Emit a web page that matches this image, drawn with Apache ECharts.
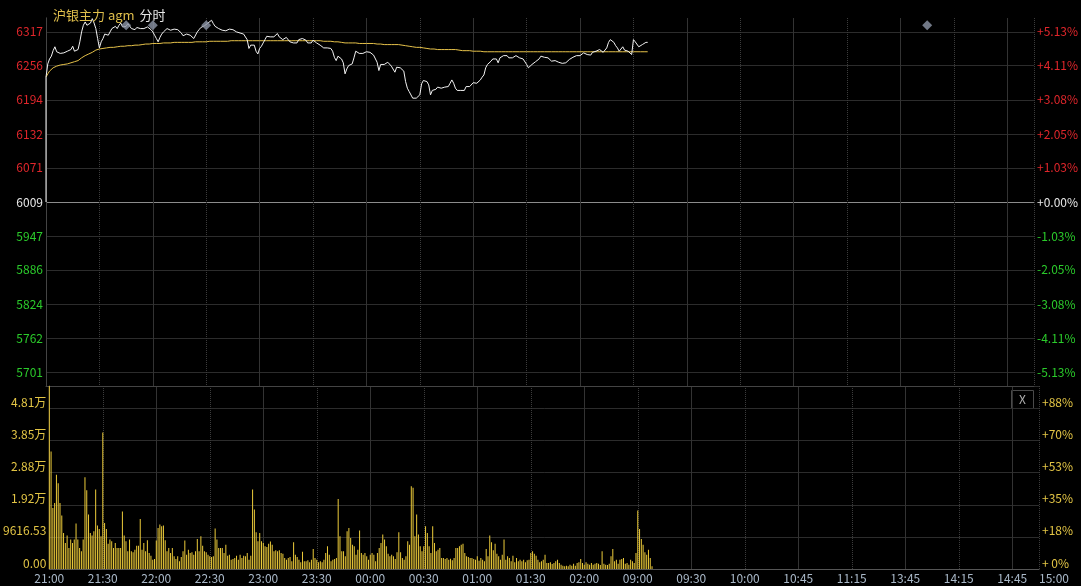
<!DOCTYPE html>
<html>
<head>
<meta charset="utf-8">
<title>沪银主力 agm 分时</title>
<script src="https://cdn.jsdelivr.net/npm/echarts@6/dist/echarts.min.js"></script>
<style>
html, body { margin: 0; padding: 0; background: #000; }
#chart { width: 1081px; height: 586px; }
</style>
</head>
<body>
<div id="chart"></div>
<script>
// reference (previous settle) price and axis ticks
var prevSettle = 6009
var priceTicks = [5701, 5762, 5824, 5886, 5947, 6009, 6071, 6132, 6194, 6256, 6317]
var timeLabels = ['21:00', '21:30', '22:00', '22:30', '23:00', '23:30', '00:00', '00:30', '01:00', '01:30',
    '02:00', '09:00', '09:30', '10:00', '10:45', '11:15', '13:45', '14:15', '14:45', '15:00']
var sessionMinutes = 555
var volTickStep = 9616.53
var volMax = 54814.2

// event markers (minute index from 21:00)
var eventMinutes = [45, 60, 90, 495]
var eventLevel = 6329

// one value per trading minute, from 21:00
var prices = [
    6235, 6259, 6268, 6273, 6283, 6290, 6281, 6279, 6278, 6280,
    6279, 6276, 6282, 6279, 6285, 6291, 6282, 6280, 6285, 6299,
    6317, 6329, 6335, 6329, 6326, 6333, 6341, 6333, 6323, 6305,
    6288, 6299, 6305, 6313, 6314, 6311, 6317, 6323, 6326, 6327,
    6323, 6329, 6333, 6326, 6323, 6327, 6332, 6329, 6323, 6325,
    6321, 6325, 6327, 6323, 6320, 6323, 6325, 6326, 6323, 6321,
    6317, 6311, 6305, 6299, 6307, 6313, 6317, 6320, 6323, 6321,
    6320, 6323, 6322, 6323, 6321, 6320, 6315, 6310, 6308, 6313,
    6314, 6311, 6309, 6305, 6307, 6317, 6321, 6325, 6326, 6328,
    6331, 6333, 6335, 6338, 6332, 6327, 6325, 6323, 6323, 6320,
    6317, 6319, 6320, 6322, 6323, 6321, 6319, 6317, 6316, 6315,
    6314, 6313, 6310, 6303, 6287, 6293, 6290, 6293, 6282, 6277,
    6287, 6291, 6297, 6303, 6309, 6311, 6308, 6311, 6308, 6309,
    6314, 6308, 6305, 6303, 6305, 6307, 6308, 6299, 6302, 6297,
    6296, 6297, 6303, 6305, 6305, 6303, 6302, 6297, 6296, 6297,
    6302, 6300, 6297, 6294, 6293, 6290, 6288, 6287, 6288, 6290,
    6287, 6282, 6271, 6265, 6273, 6273, 6268, 6261, 6241, 6250,
    6256, 6258, 6259, 6270, 6282, 6280, 6278, 6276, 6278, 6279,
    6281, 6282, 6280, 6278, 6275, 6272, 6262, 6247, 6258, 6259,
    6258, 6261, 6262, 6261, 6255, 6252, 6244, 6253, 6250, 6252,
    6253, 6246, 6227, 6215, 6209, 6211, 6197, 6194, 6197, 6195,
    6203, 6223, 6229, 6230, 6227, 6221, 6203, 6211, 6209, 6213,
    6217, 6218, 6215, 6218, 6217, 6215, 6218, 6224, 6230, 6224,
    6215, 6211, 6209, 6211, 6212, 6211, 6218, 6221, 6218, 6221,
    6225, 6224, 6224, 6225, 6230, 6235, 6239, 6252, 6258, 6259,
    6264, 6268, 6265, 6268, 6261, 6270, 6273, 6274, 6276, 6274,
    6270, 6273, 6270, 6271, 6274, 6271, 6270, 6268, 6268, 6265,
    6258, 6252, 6252, 6258, 6261, 6263, 6261, 6268, 6273, 6273,
    6271, 6271, 6270, 6270, 6264, 6265, 6265, 6264, 6262, 6261,
    6260, 6259, 6261, 6264, 6267, 6270, 6271, 6270, 6274, 6276,
    6274, 6275, 6279, 6278, 6276, 6279, 6275, 6280, 6281, 6282,
    6284, 6285, 6284, 6280, 6282, 6288, 6298, 6303, 6302, 6298,
    6292, 6288, 6282, 6285, 6290, 6284, 6282, 6282, 6284, 6276,
    6303, 6299, 6296, 6290, 6291, 6294, 6297, 6298, 6298
]

var avgPrices = [
    6235, 6241, 6246, 6249, 6252, 6254, 6255, 6256, 6257, 6257,
    6258, 6258, 6259, 6260, 6261, 6262, 6263, 6264, 6265, 6267,
    6270, 6272, 6274, 6276, 6277, 6278, 6280, 6282, 6284, 6285,
    6286, 6287, 6287, 6288, 6288, 6288, 6289, 6289, 6289, 6290,
    6290, 6290, 6291, 6291, 6291, 6292, 6292, 6292, 6292, 6293,
    6293, 6293, 6293, 6294, 6294, 6294, 6295, 6295, 6295, 6295,
    6296, 6296, 6296, 6296, 6296, 6296, 6297, 6297, 6297, 6297,
    6297, 6297, 6298, 6298, 6298, 6298, 6298, 6298, 6298, 6298,
    6298, 6298, 6298, 6299, 6299, 6299, 6299, 6299, 6299, 6299,
    6299, 6299, 6300, 6300, 6300, 6300, 6300, 6300, 6300, 6300,
    6300, 6300, 6300, 6301, 6301, 6301, 6301, 6301, 6301, 6301,
    6301, 6301, 6301, 6301, 6301, 6301, 6301, 6301, 6301, 6301,
    6301, 6301, 6301, 6301, 6301, 6301, 6301, 6301, 6301, 6301,
    6301, 6301, 6301, 6301, 6301, 6301, 6301, 6301, 6301, 6301,
    6301, 6301, 6301, 6301, 6301, 6301, 6301, 6301, 6301, 6301,
    6301, 6301, 6301, 6301, 6301, 6300, 6300, 6300, 6300, 6300,
    6300, 6300, 6299, 6299, 6299, 6299, 6298, 6298, 6297, 6297,
    6297, 6297, 6297, 6297, 6297, 6297, 6296, 6296, 6296, 6296,
    6296, 6296, 6296, 6296, 6296, 6295, 6295, 6295, 6295, 6295,
    6294, 6294, 6294, 6294, 6294, 6294, 6294, 6294, 6294, 6294,
    6293, 6293, 6292, 6292, 6291, 6290, 6290, 6289, 6289, 6289,
    6289, 6288, 6288, 6288, 6287, 6287, 6286, 6286, 6286, 6286,
    6285, 6285, 6285, 6285, 6285, 6285, 6285, 6285, 6285, 6285,
    6285, 6284, 6284, 6284, 6283, 6283, 6283, 6283, 6283, 6283,
    6282, 6282, 6282, 6282, 6282, 6282, 6281, 6281, 6281, 6281,
    6281, 6281, 6281, 6281, 6281, 6281, 6281, 6281, 6281, 6281,
    6281, 6281, 6281, 6281, 6281, 6281, 6281, 6281, 6281, 6281,
    6281, 6281, 6281, 6281, 6281, 6281, 6281, 6281, 6281, 6281,
    6281, 6281, 6281, 6281, 6281, 6281, 6281, 6281, 6281, 6281,
    6281, 6281, 6281, 6281, 6281, 6281, 6281, 6281, 6281, 6281,
    6281, 6281, 6281, 6281, 6281, 6281, 6281, 6281, 6281, 6281,
    6281, 6281, 6281, 6281, 6281, 6281, 6281, 6281, 6281, 6281,
    6281, 6281, 6281, 6281, 6281, 6281, 6281, 6281, 6281, 6281,
    6281, 6281, 6281, 6281, 6281, 6281, 6281, 6281, 6281
]

var volumes = [
    54814, 35200, 18300, 19800, 28200, 25700, 19800, 16000, 10800, 7800,
    10000, 6300, 8800, 7800, 8800, 13600, 8800, 6300, 5300, 8800,
    27500, 23600, 16300, 10800, 10000, 11300, 23800, 13000, 12000, 9800,
    40900, 13800, 12000, 7600, 8800, 8300, 6300, 7800, 6300, 6300,
    6300, 17200, 10000, 8300, 5300, 8800, 5300, 5000, 5800, 7000,
    7000, 15000, 5800, 7800, 5300, 8600, 4800, 4000, 2800, 3000,
    8500, 12300, 13300, 12800, 13000, 8600, 5300, 6300, 4800, 6300,
    3800, 3000, 3800, 2300, 3600, 5300, 8500, 4300, 5800, 4800,
    5000, 4300, 5300, 9000, 5300, 9800, 7000, 5300, 5000, 4300,
    3800, 3600, 3800, 12100, 8800, 6300, 6300, 6300, 4800, 7300,
    4000, 4300, 2800, 3000, 3300, 4000, 2800, 4300, 3300, 4000,
    3800, 4800, 2800, 4000, 23800, 17800, 11000, 8300, 10800, 8300,
    7800, 6800, 6600, 7600, 8200, 7300, 5300, 5600, 5300, 5600,
    4800, 4600, 3300, 2800, 3300, 3600, 2300, 8000, 4300, 3600,
    2800, 2000, 5200, 2300, 2300, 2600, 2000, 2800, 6000, 3300,
    2800, 2000, 2300, 2000, 2800, 4800, 6800, 4300, 2300, 2800,
    3000, 3300, 21000, 9800, 5300, 5300, 3800, 11300, 12300, 9300,
    7300, 6800, 4300, 5800, 11500, 4800, 4300, 4800, 3800, 2800,
    4300, 4800, 4300, 2300, 4800, 6300, 7800, 10300, 8800, 6800,
    4600, 3800, 4300, 3800, 3000, 5000, 11000, 5000, 3300, 2800,
    3800, 8300, 7300, 24800, 24300, 9800, 16300, 10300, 6800, 5300,
    6800, 12800, 10800, 6800, 4800, 12800, 7800, 5300, 5800, 6300,
    3300, 3300, 3000, 3300, 2800, 3100, 2600, 3300, 6300, 6300,
    6800, 7300, 7600, 4800, 3800, 3600, 3300, 3300, 3000, 2800,
    3800, 2500, 3300, 2800, 2300, 6000, 3800, 10000, 8000, 5600,
    7600, 4600, 3800, 2800, 4300, 8800, 2800, 3800, 3300, 2300,
    4000, 2000, 3300, 2300, 2800, 2300, 2800, 2000, 2600, 2800,
    4800, 5300, 4600, 4000, 2800, 2000, 2300, 2800, 4300, 1800,
    1800, 2000, 1500, 1800, 2300, 2800, 1800, 1300, 1000, 800,
    1000, 800, 1300, 1000, 1600, 1000, 1800, 2000, 3000, 1800,
    1300, 2000, 1600, 1300, 1800, 1300, 1600, 1800, 1600, 1200,
    5300, 1600, 1300, 1200, 1600, 3800, 6000, 2300, 2800, 1600,
    2800, 3000, 3300, 1600, 1800, 1300, 2800, 2300, 1800, 4800,
    17500, 12000, 9000, 7300, 5000, 4300, 5800, 3300, 800
]

var upColor = '#e0262b'
var downColor = '#2bcb2b'
var flatColor = '#e8e8e8'
var gridColor = '#2c2c2c'
var labelFont = '"Noto Sans CJK SC", "Noto Sans", sans-serif'

function priceColor(v){
    return v > prevSettle ? upColor : (v < prevSettle ? downColor : flatColor)
}
function timeLabel(v){
    if(v >= sessionMinutes) return timeLabels[timeLabels.length - 1]
    return timeLabels[Math.round(v / 30)] || ''
}

var priceRange = 333.13
var priceData = [[0, prevSettle]].concat(prices.map(function(p, i){ return [i, p] }))
var avgData = avgPrices.map(function(p, i){ return [i, p] })
var volData = volumes.map(function(v, i){ return [i, v] })
var eventData = eventMinutes.map(function(m){ return [m, eventLevel] })

var hSplit = priceTicks.map(function(t){ return t === prevSettle ? '#8c8c8c' : gridColor })

function timeAxis(gridIndex, dotted, withLabels, lineColor){
    return {
        type: 'value',
        gridIndex: gridIndex,
        min: 0,
        max: sessionMinutes,
        interval: 30,
        axisLine: { show: !dotted, lineStyle: { color: lineColor } },
        axisTick: { show: false },
        axisLabel: {
            show: withLabels,
            formatter: timeLabel,
            color: '#a9b8c8',
            fontSize: 12,
            fontFamily: labelFont,
            margin: 3,
            alignMaxLabel: 'left'
        },
        splitLine: {
            show: true,
            lineStyle: {
                type: dotted ? 'dotted' : 'solid',
                color: dotted ? ['rgba(0,0,0,0)', '#3c3c3c'] : ['#333333', 'rgba(0,0,0,0)']
            }
        }
    }
}

var chart = echarts.init(document.getElementById('chart'))
var option = {
    backgroundColor: '#000',
    animation: false,
    title: {
        text: '{a|沪银主力 agm} {b|分时}',
        left: 48,
        top: 1,
        textStyle: {
            fontWeight: 'normal',
            rich: {
                a: { color: '#e0bf4c', fontSize: 13, fontWeight: 'normal', fontFamily: labelFont },
                b: { color: '#e6e6e6', fontSize: 13, fontWeight: 'normal', fontFamily: labelFont }
            }
        }
    },
    grid: [
        { left: 46, right: 42, top: 18, height: 368 },
        { left: 46, right: 42, top: 386, height: 183 }
    ],
    xAxis: [
        timeAxis(0, false, false, '#444'),
        timeAxis(0, true, false, '#444'),
        timeAxis(1, false, true, '#555'),
        timeAxis(1, true, false, '#555')
    ],
    yAxis: [
        {
            type: 'value',
            gridIndex: 0,
            position: 'left',
            min: prevSettle - priceRange,
            max: prevSettle + priceRange,
            axisLine: { show: true, lineStyle: { color: '#333' } },
            axisTick: { show: false, customValues: priceTicks },
            axisLabel: {
                customValues: priceTicks,
                margin: 3,
                fontSize: 12,
                fontFamily: labelFont,
                color: priceColor,
                formatter: function(v){ return String(Math.round(v)) }
            },
            splitLine: { show: true, lineStyle: { color: hSplit } }
        },
        {
            type: 'value',
            gridIndex: 0,
            position: 'right',
            min: prevSettle - priceRange,
            max: prevSettle + priceRange,
            axisLine: { show: true, lineStyle: { color: '#444' } },
            axisTick: { show: false, customValues: priceTicks },
            axisLabel: {
                customValues: priceTicks,
                margin: 3,
                fontSize: 12,
                fontFamily: labelFont,
                color: priceColor,
                formatter: function(v){
                    var p = (v - prevSettle) / prevSettle * 100
                    return (p < 0 ? '-' : '+') + Math.abs(p).toFixed(2) + '%'
                }
            },
            splitLine: { show: false }
        },
        {
            type: 'value',
            gridIndex: 1,
            position: 'left',
            min: 0,
            max: volMax,
            interval: volTickStep,
            axisLine: { show: true, lineStyle: { color: '#333' } },
            axisTick: { show: false },
            axisLabel: {
                showMaxLabel: false,
                margin: 3,
                fontSize: 12,
                fontFamily: labelFont,
                color: '#e3c545',
                verticalAlign: 'bottom',
                formatter: function(v){
                    if(v === 0) return '0.00'
                    if(v < 10000) return v.toFixed(2)
                    return (v / 10000).toFixed(2) + '万'
                }
            },
            splitLine: { show: true, lineStyle: { color: gridColor } }
        },
        {
            type: 'value',
            gridIndex: 1,
            position: 'right',
            min: 0,
            max: volMax,
            interval: volTickStep,
            axisLine: { show: true, lineStyle: { color: '#444' } },
            axisTick: { show: false },
            axisLabel: {
                showMaxLabel: false,
                margin: 3,
                fontSize: 12,
                fontFamily: labelFont,
                color: '#e3c545',
                verticalAlign: 'bottom',
                formatter: function(v){
                    if(v === 0) return '+ 0%'
                    return '+' + Math.round(v / volMax * 100) + '%'
                }
            },
            splitLine: { show: false }
        }
    ],
    graphic: [
        {
            type: 'group',
            right: 45,
            top: 388,
            children: [
                { type: 'rect', shape: { x: 0.5, y: 0.5, width: 22, height: 18 }, style: { fill: 'none', stroke: '#4a4a4a', lineWidth: 1 } },
                { type: 'text', x: 11.5, y: 9.5, style: { text: 'X', fill: '#b0b0b0', font: '12px ' + labelFont, align: 'center', verticalAlign: 'middle' } }
            ]
        }
    ],
    series: [
        {
            name: '成交量',
            type: 'bar',
            xAxisIndex: 2,
            yAxisIndex: 2,
            barWidth: 1,
            itemStyle: { color: '#eccb3a' },
            data: volData
        },
        {
            name: '均价',
            type: 'line',
            xAxisIndex: 0,
            yAxisIndex: 0,
            showSymbol: false,
            lineStyle: { color: '#e6c24a', width: 1 },
            data: avgData
        },
        {
            name: '价格',
            type: 'line',
            xAxisIndex: 0,
            yAxisIndex: 0,
            showSymbol: false,
            lineStyle: { color: '#f2f2f2', width: 1 },
            data: priceData
        },
        {
            name: '事件',
            type: 'scatter',
            xAxisIndex: 0,
            yAxisIndex: 0,
            z: 5,
            symbol: 'diamond',
            symbolSize: 10,
            itemStyle: { color: '#8d96a8' },
            data: eventData
        }
    ]
}
chart.setOption(option)
</script>
</body>
</html>
